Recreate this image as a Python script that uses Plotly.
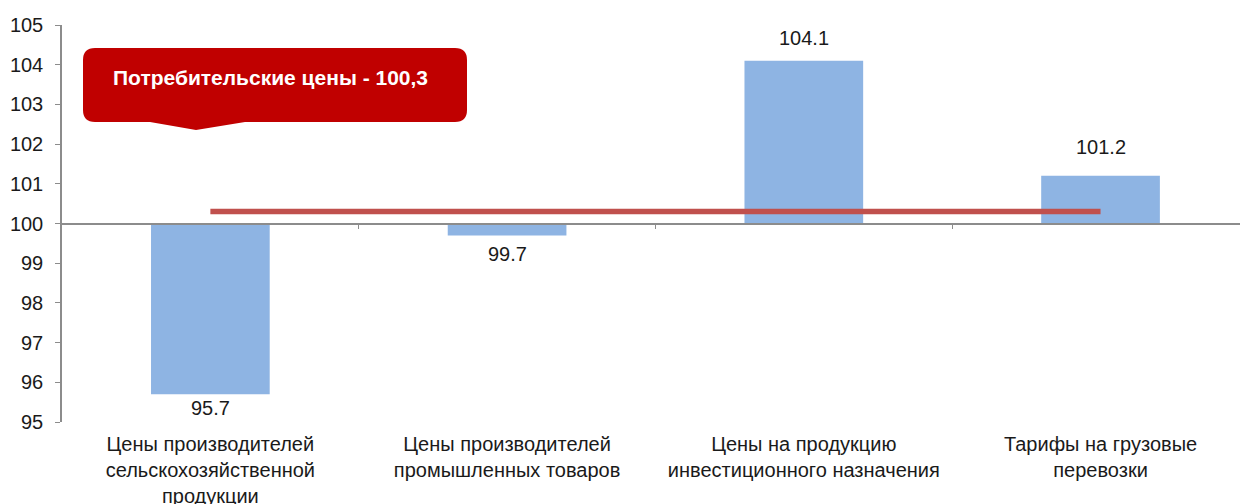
import plotly.graph_objects as go

categories = ["Цены производителей<br>сельскохозяйственной<br>продукции",
              "Цены производителей<br>промышленных товаров",
              "Цены на продукцию<br>инвестиционного назначения",
              "Тарифы на грузовые<br>перевозки"]
values = [95.7, 99.7, 104.1, 101.2]
base_level = 100
cpi_value = 100.3
cpi_label = "Потребительские цены - 100,3"

# label pixel offsets (style only)
label_shift = [-14, -19, 23, 29]

W, H = 1240, 504
ML, MR, MT, MB = 62, 0, 25, 82
PW, PH = W - ML - MR, H - MT - MB
XR = [-0.5, 3.47]
YR = [95, 105]

def px(x):
    return (x - ML) / PW

def py(y):
    return (H - MB - y) / PH

FONT = "Liberation Sans, Arial, sans-serif"
TXT = "#1a1a1a"
xs = list(range(len(categories)))

fig = go.Figure()
fig.add_trace(go.Bar(
    x=xs, y=[v - base_level for v in values], base=base_level,
    width=0.4, marker=dict(color="#8EB4E3", line=dict(width=0)),
    hoverinfo="skip", showlegend=False,
))
fig.add_trace(go.Scatter(
    x=[xs[0], xs[-1]], y=[cpi_value, cpi_value], mode="lines",
    line=dict(color="#C0504D", width=5.5), hoverinfo="skip", showlegend=False,
))
fig.add_trace(go.Scatter(x=[xs[0]], y=[base_level], xaxis="x2", mode="markers",
                         marker=dict(opacity=0), hoverinfo="skip", showlegend=False))

for x, v, s in zip(xs, values, label_shift):
    fig.add_annotation(x=x, y=v, xref="x", yref="y", text=f"{v:.1f}",
                       showarrow=False, yshift=s, xanchor="center",
                       font=dict(family=FONT, size=20, color=TXT))

# callout box
bx0, bx1, by0, by1 = 83, 467, 48, 122
r = 12
tx0, tx1, tip_x, tip_y = 150, 245, 196, 130
path = (f"M {px(bx0 + r)},{py(by0)} "
        f"L {px(bx1 - r)},{py(by0)} Q {px(bx1)},{py(by0)} {px(bx1)},{py(by0 + r)} "
        f"L {px(bx1)},{py(by1 - r)} Q {px(bx1)},{py(by1)} {px(bx1 - r)},{py(by1)} "
        f"L {px(tx1)},{py(by1)} L {px(tip_x)},{py(tip_y)} L {px(tx0)},{py(by1)} "
        f"L {px(bx0 + r)},{py(by1)} Q {px(bx0)},{py(by1)} {px(bx0)},{py(by1 - r)} "
        f"L {px(bx0)},{py(by0 + r)} Q {px(bx0)},{py(by0)} {px(bx0 + r)},{py(by0)} Z")
fig.add_shape(type="path", path=path, xref="paper", yref="paper",
              fillcolor="#C00000", line=dict(width=0), layer="above")
fig.add_annotation(x=px(270), y=py(77), xref="paper", yref="paper",
                   xanchor="center", yanchor="middle",
                   text=f"<b>{cpi_label}</b>", showarrow=False,
                   font=dict(family=FONT, size=21, color="white"))

fig.update_layout(
    width=W, height=H, margin=dict(l=ML, r=MR, t=MT, b=MB, autoexpand=False),
    plot_bgcolor="white", paper_bgcolor="white",
    xaxis=dict(range=XR, tickvals=xs, ticktext=categories, showline=False,
               showgrid=False, zeroline=False, ticks="", ticklabelstandoff=8,
               automargin=False,
               tickfont=dict(family=FONT, size=20, color=TXT)),
    xaxis2=dict(range=XR, overlaying="x", anchor="free",
                position=(base_level - YR[0]) / (YR[1] - YR[0]),
                showline=True, linecolor="#8c8c8c", linewidth=1.5,
                tickvals=[0.5, 1.5, 2.5], ticks="outside", ticklen=5,
                tickcolor="#8c8c8c", showticklabels=False, showgrid=False,
                zeroline=False),
    yaxis=dict(range=YR, dtick=1, showline=True, linecolor="#8c8c8c",
               linewidth=1.5, ticks="outside", ticklen=5, tickcolor="#8c8c8c",
               showgrid=False, zeroline=False, automargin=False,
               ticklabelstandoff=8,
               tickfont=dict(family=FONT, size=20, color=TXT)),
    bargap=0.6,
)
fig.write_html("out.html", config={"displayModeBar": False},
               post_script="document.body.style.margin='0px';")
